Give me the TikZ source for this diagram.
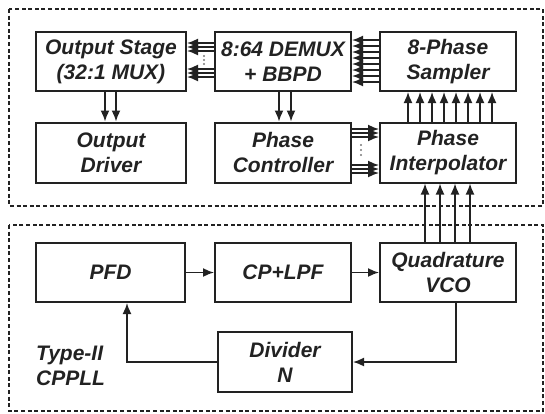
\documentclass[tikz,border=0pt]{standalone}
\usepackage{fontspec}
\setmainfont{Liberation Sans}
\usetikzlibrary{arrows.meta}
\definecolor{ink}{HTML}{222222}
\tikzset{
  blk/.style={draw=ink, line width=2pt, inner sep=0pt, text=ink,
    font=\fontsize{21}{25}\selectfont\bfseries\itshape, align=center},
  arr/.style={draw=ink, line width=1.6pt, -{Latex[length=11pt,width=9pt]}},
  dashbox/.style={draw=ink, line width=2pt, dash pattern=on 4pt off 2.6pt},
  lbl/.style={text=ink, font=\fontsize{21}{25}\selectfont\bfseries\itshape, align=left, inner sep=0pt}
}
\begin{document}
\begin{tikzpicture}[x=1pt,y=-1pt]
\useasboundingbox (0,0) rectangle (545,413);
% dashed enclosures
\draw[dashbox] (9,9) rectangle (543,206);
\draw[dashbox] (9,225) rectangle (543,411);
% blocks
\node[blk, minimum width=150pt, minimum height=59pt] (os) at (111,61.5) {Output Stage\\(32:1 MUX)};
\node[blk, minimum width=136pt, minimum height=59pt] (dm) at (283,61.5) {8:64 DEMUX\\+ BBPD};
\node[blk, minimum width=136pt, minimum height=59pt] (sp) at (448,61.5) {8-Phase\\Sampler};
\node[blk, minimum width=150pt, minimum height=60pt] (od) at (111,152.5) {Output\\Driver};
\node[blk, minimum width=136pt, minimum height=60pt] (pc) at (283,152.5) {Phase\\Controller};
\node[blk, minimum width=136pt, minimum height=60pt] (pi) at (448,152.5) {Phase\\Interpolator};
\node[blk, minimum width=149pt, minimum height=59pt] (pfd) at (110.5,272.5) {PFD};
\node[blk, minimum width=136pt, minimum height=59pt] (cp) at (283,272.5) {CP+LPF};
\node[blk, minimum width=136pt, minimum height=59pt] (vco) at (448,272.5) {Quadrature\\VCO};
\node[blk, minimum width=134pt, minimum height=60pt] (dv) at (285,362) {Divider\\N};
\node[lbl, anchor=north west] (typ) at (36,346) {Type-II\\CPPLL};
% output stage -> output driver
\foreach \dx in {-6,5} \draw[arr] ([xshift=\dx pt]os.south) -- ([xshift=\dx pt]od.north);
% demux -> phase controller
\foreach \dx in {-4,8} \draw[arr] ([xshift=\dx pt]dm.south) -- ([xshift=\dx pt]pc.north);
% demux -> output stage
\foreach \dy in {18.5,14.5,10.5,-7.5,-11.5,-15.5} \draw[arr] ([yshift=\dy pt]dm.west) -- ([yshift=\dy pt]os.east);
\foreach \yy in {56,60,64} \fill[ink!60] (204,\yy) circle (1.1pt);
% sampler -> demux
\foreach \k [evaluate=\k as \dy using 21.5-6*\k] in {0,...,7} \draw[arr] ([yshift=\dy pt]sp.west) -- ([yshift=\dy pt]dm.east);
% interpolator -> sampler
\foreach \k [evaluate=\k as \dx using -40+12*\k] in {0,...,7} \draw[arr] ([xshift=\dx pt]pi.north) -- ([xshift=\dx pt]sp.south);
% phase controller -> interpolator
\foreach \dy in {23.5,19.5,15.5,-12.5,-16.5,-20.5} \draw[arr] ([yshift=\dy pt]pc.east) -- ([yshift=\dy pt]pi.west);
\foreach \yy in {145,150,155} \fill[ink!60] (361,\yy) circle (1.1pt);
% vco -> interpolator
\foreach \dx in {-23,-8,7,22} \draw[arr] ([xshift=\dx pt]vco.north) -- ([xshift=\dx pt]pi.south);
% PLL loop
\draw[arr] (pfd) -- (cp);
\draw[arr] (cp) -- (vco);
\draw[arr] ([xshift=8pt]vco.south) |- (dv.east);
\draw[arr] (dv.west) -| ([xshift=16.5pt]pfd.south);
\end{tikzpicture}
\end{document}
